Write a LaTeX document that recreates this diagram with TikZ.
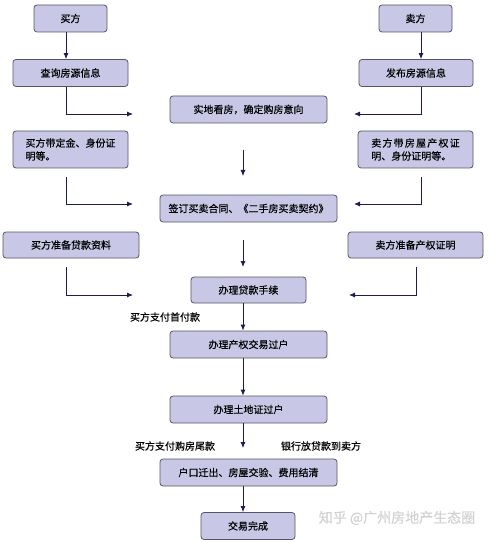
\documentclass[tikz,border=0pt]{standalone}
\usepackage{fontspec}
\setmainfont[FakeBold=0.4]{Noto Sans CJK SC}
\newfontfamily\widecjk[FakeBold=0.4,LetterSpace=12]{Noto Sans CJK SC}
\usetikzlibrary{arrows.meta}
\definecolor{boxfill}{RGB}{200,200,230}
\definecolor{boxline}{RGB}{85,85,100}
\definecolor{arrline}{RGB}{28,28,85}
\begin{document}
\begin{tikzpicture}[x=1pt,y=-1pt,
  stepbox/.style={draw=boxline,fill=boxfill,line width=0.8pt,rounded corners=3pt,
    inner sep=0pt,font=\fontsize{10}{13}\selectfont,align=center},
  arr/.style={draw=arrline,line width=0.8pt,-{Latex[length=6pt,width=5pt]}},
  lbl/.style={font=\fontsize{10}{12}\selectfont,inner sep=0pt}]
\useasboundingbox (0,0) rectangle (490,540);
% boxes
\node[stepbox,minimum width=73pt,minimum height=27pt] (b1) at (70.5,18.5) {买方};
\node[stepbox,minimum width=115pt,minimum height=27pt] (b2) at (70.5,73) {查询房源信息};
\node[stepbox,minimum width=157pt,minimum height=27pt] (b3) at (248.5,109.5) {实地看房，确定购房意向};
\node[stepbox,minimum width=115pt,minimum height=37pt,align=left] (b4) at (70.5,149.5) {买方带定金、身份证\\明等。};
\node[stepbox,minimum width=73pt,minimum height=27pt] (b5) at (415.5,18.5) {卖方};
\node[stepbox,minimum width=114pt,minimum height=27pt] (b6) at (416,73) {发布房源信息};
\node[stepbox,minimum width=115pt,minimum height=37pt,align=left] (b7) at (415.5,149.5) {{\widecjk 卖方带房屋产权证}\\明、身份证明等。};
\node[stepbox,minimum width=177pt,minimum height=27pt] (b8) at (248.5,208.5) {签订买卖合同、《二手房买卖契约》};
\node[stepbox,minimum width=136pt,minimum height=26pt] (b9) at (71,245) {买方准备贷款资料};
\node[stepbox,minimum width=135pt,minimum height=26pt] (b10) at (415.5,245) {卖方准备产权证明};
\node[stepbox,minimum width=115pt,minimum height=26pt] (b11) at (248.5,290) {办理贷款手续};
\node[stepbox,minimum width=157pt,minimum height=27pt] (b12) at (248.5,344.5) {办理产权交易过户};
\node[stepbox,minimum width=157pt,minimum height=27pt] (b13) at (248.5,409.5) {办理土地证过户};
\node[stepbox,minimum width=177pt,minimum height=27pt] (b14) at (248.5,472.5) {户口迁出、房屋交验、费用结清};
\node[stepbox,minimum width=94pt,minimum height=27pt] (b15) at (248,526) {交易完成};
% labels
\node[lbl] (l1) at (165,317) {买方支付首付款};
\node[lbl] (l2) at (175,446) {买方支付购房尾款};
\node[lbl] (l3) at (321,446) {银行放贷款到卖方};
\node[font=\fontsize{14}{16}\selectfont,text=gray!35,inner sep=0pt] (wm) at (397,518) {知乎 @广州房地产生态圈};
% helper coordinates
\coordinate (lx) at (66,0);
\coordinate (rx) at (421,0);
\coordinate (mx) at (243,0);
\coordinate (e1) at (133,114);
\coordinate (e2) at (354,114);
\coordinate (s3) at (243,150);
\coordinate (e3) at (243,176);
\coordinate (s4) at (66,177);
\coordinate (e4) at (133,204);
\coordinate (s5) at (421,177);
\coordinate (e5) at (354,204);
\coordinate (s6) at (243,240);
\coordinate (e6) at (243,267);
\coordinate (s7) at (66,267);
\coordinate (e7) at (133,295);
\coordinate (s8) at (416,267);
\coordinate (e8) at (349,295);
\coordinate (e9) at (243,448);
% connectors
\draw[arr] (b1.south -| lx) -- (b2.north -| lx);
\draw[arr] (b5.south -| rx) -- (b6.north -| rx);
\draw[arr] (b2.south -| lx) |- (e1);
\draw[arr] (b6.south -| rx) |- (e2);
\draw[arr] (s3) -- (e3);
\draw[arr] (s4) |- (e4);
\draw[arr] (s5) |- (e5);
\draw[arr] (s6) -- (e6);
\draw[arr] (s7) |- (e7);
\draw[arr] (s8) |- (e8);
\draw[arr] (b11.south -| mx) -- (b12.north -| mx);
\draw[arr] (b12.south -| mx) -- (b13.north -| mx);
\draw[arr] (b13.south -| mx) -- (e9);
\draw[arr] (b14.south -| mx) -- (b15.north -| mx);
\end{tikzpicture}
\end{document}
